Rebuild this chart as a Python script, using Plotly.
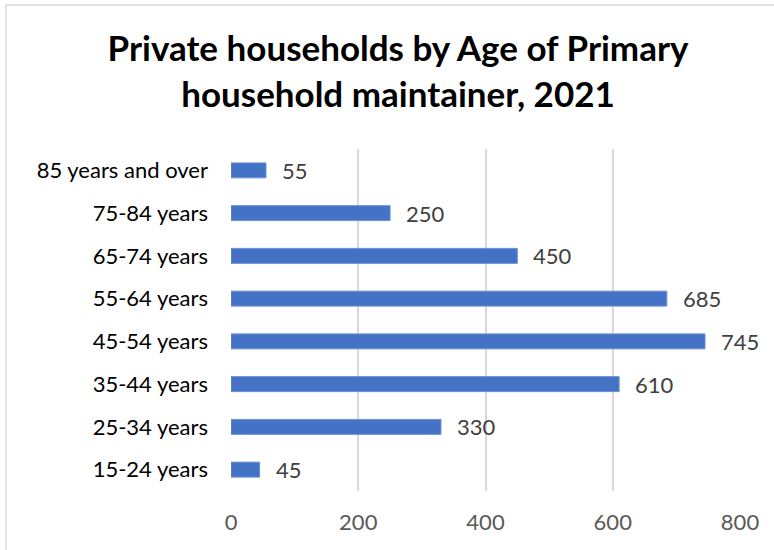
import plotly.graph_objects as go

categories = ["15-24 years", "25-34 years", "35-44 years", "45-54 years",
              "55-64 years", "65-74 years", "75-84 years", "85 years and over"]
households = [45, 330, 610, 745, 685, 450, 250, 55]
x_ticks = [0, 200, 400, 600, 800]

FONT = "Lato"
W, H = 774, 550
L, R, T, B = 231, 34, 149, 59
pw = W - L - R
ph = H - T - B

fig = go.Figure(go.Bar(
    y=categories,
    x=households,
    orientation="h",
    width=0.35,
    marker=dict(color="#4472C4", line=dict(color="#6a8fd3", width=1)),
    hoverinfo="x+y",
))

# value labels to the right of each bar
for cat, val in zip(categories, households):
    fig.add_annotation(
        x=val, y=cat, text=str(val), showarrow=False,
        xanchor="left", yanchor="middle", xshift=14,
        font=dict(family=FONT, size=22, color="#404040"),
    )

# chart frame
fig.add_shape(
    type="rect", xref="paper", yref="paper",
    x0=(6 - L) / pw, x1=(W + 20 - L) / pw,
    y0=-(H + 20 - T - ph) / ph, y1=(H - B - 5) / ph,
    line=dict(color="#d9d9d9", width=1.5), layer="below",
)

fig.update_layout(
    width=W, height=H,
    margin=dict(l=L, r=R, t=T, b=B),
    paper_bgcolor="white", plot_bgcolor="white",
    showlegend=False,
    title=dict(
        text="<b>Private households by Age of Primary<br>household maintainer, 2021</b>",
        x=(398 - L) / pw, xanchor="center", xref="paper",
        y=(H - 61) / H, yanchor="middle",
        font=dict(family=FONT, size=35, color="#000000"),
    ),
    xaxis=dict(
        range=[0, 800], tickvals=x_ticks, ticktext=[str(v) for v in x_ticks],
        showgrid=True, gridcolor="#d9d9d9", gridwidth=1.5,
        zeroline=False, showline=False,
        tickfont=dict(family=FONT, size=22, color="#595959"),
        ticklabelstandoff=16,
        fixedrange=True,
    ),
    yaxis=dict(
        categoryorder="array", categoryarray=categories,
        showgrid=False, zeroline=False, showline=False,
        tickfont=dict(family=FONT, size=22, color="#000000"),
        ticklabelstandoff=22,
        fixedrange=True,
    ),
)

fig.write_html("out.html")
